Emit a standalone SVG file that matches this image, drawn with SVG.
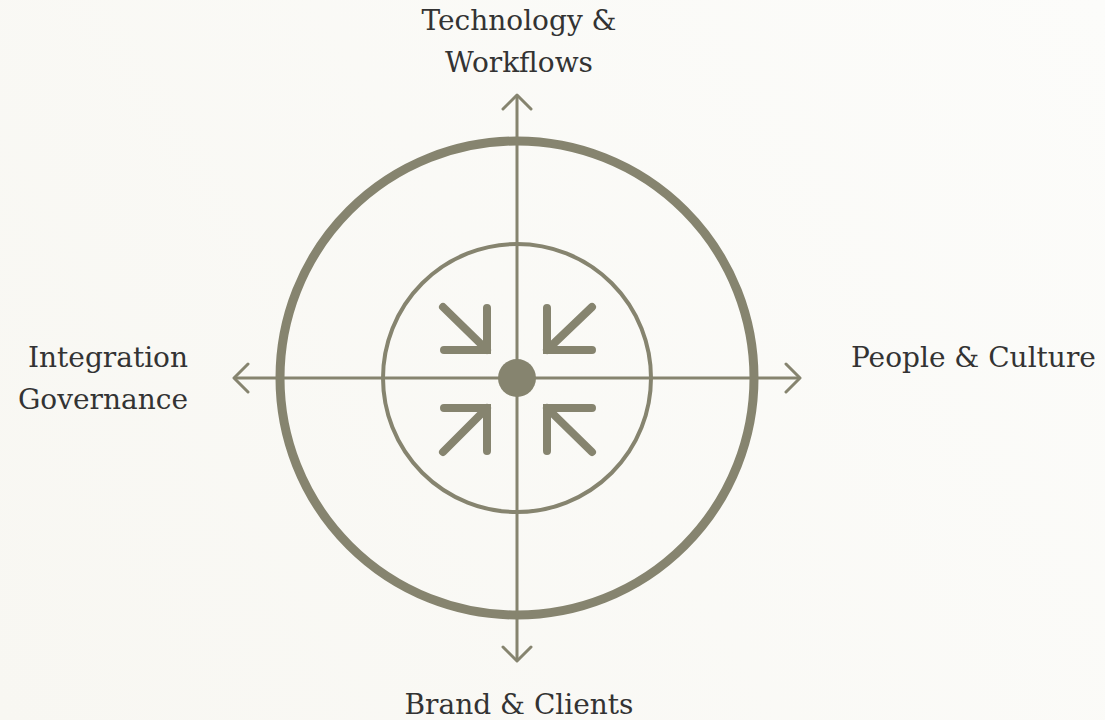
<svg xmlns="http://www.w3.org/2000/svg" width="1105" height="720" viewBox="0 0 1105 720">
  <defs>
    <linearGradient id="bg" gradientUnits="userSpaceOnUse" x1="0" y1="720" x2="1105" y2="0">
      <stop offset="0" stop-color="#f8f7f2"/>
      <stop offset="1" stop-color="#fcfcfa"/>
    </linearGradient>
    <marker id="chev" viewBox="-16 -16 20 32" markerWidth="20" markerHeight="32" refX="0" refY="0" orient="auto" markerUnits="userSpaceOnUse">
      <path d="M-14,-14 L0,0 L-14,14" fill="none" stroke="#86846f" stroke-width="3" stroke-linecap="round" stroke-linejoin="round"/>
    </marker>
  </defs>
  <style>
    .axis { stroke: #86846f; stroke-width: 3; fill: none; marker-end: url(#chev); }
    .ring-outer { fill: none; stroke: #86846f; stroke-width: 9; }
    .ring-inner { fill: none; stroke: #86846f; stroke-width: 4; }
    .inward { fill: none; stroke: #86846f; stroke-width: 8; stroke-linecap: round; stroke-linejoin: miter; }
    .label { font-family: "DejaVu Serif", "Liberation Serif", serif; font-size: 28px; fill: #333333; }
  </style>

  <rect width="1105" height="720" fill="url(#bg)"/>

  <!-- rings -->
  <g id="rings">
    <circle class="ring-outer" cx="517" cy="378" r="237"/>
    <circle class="ring-inner" cx="517" cy="378" r="134"/>
  </g>

  <!-- four axes pointing outward -->
  <g id="connectors">
    <line class="axis" x1="517" y1="378" x2="517" y2="95"/>
    <line class="axis" x1="517" y1="378" x2="517" y2="661"/>
    <line class="axis" x1="517" y1="378" x2="234" y2="378"/>
    <line class="axis" x1="517" y1="378" x2="800" y2="378"/>
  </g>

  <!-- converging arrows around the centre -->
  <g id="core">
    <circle cx="517" cy="378" r="19" fill="#86846f"/>
    <path class="inward" d="M443,307 L487,350 M487,308 L487,350 L444,350"/>
    <path class="inward" d="M592,307 L547,350 M547,308 L547,350 L592,350"/>
    <path class="inward" d="M443,452 L487,408 M487,451 L487,408 L444,408"/>
    <path class="inward" d="M592,452 L547,408 M547,451 L547,408 L592,408"/>
  </g>

  <g id="label-top">
    <text class="label" x="519" y="30" text-anchor="middle">Technology &amp;</text>
    <text class="label" x="519" y="72" text-anchor="middle">Workflows</text>
  </g>
  <g id="label-right">
    <text class="label" x="851" y="367">People &amp; Culture</text>
  </g>
  <g id="label-left">
    <text class="label" x="188" y="367" text-anchor="end">Integration</text>
    <text class="label" x="188" y="409" text-anchor="end">Governance</text>
  </g>
  <g id="label-bottom">
    <text class="label" x="519" y="714" text-anchor="middle">Brand &amp; Clients</text>
  </g>
</svg>
